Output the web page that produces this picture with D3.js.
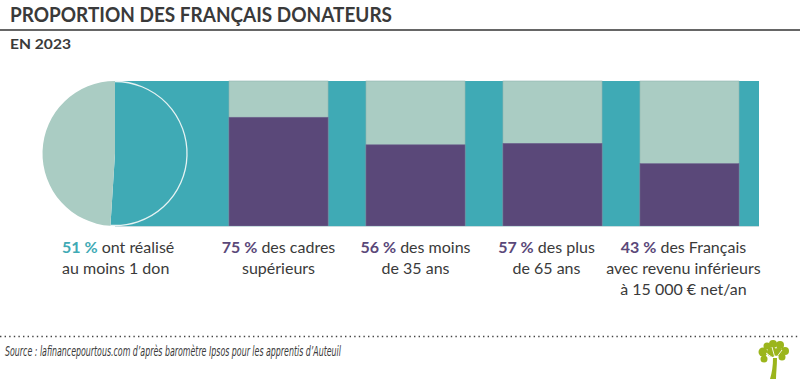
<!DOCTYPE html>
<html><head><meta charset="utf-8">
<script src="https://cdn.jsdelivr.net/npm/d3@7"></script>
<style>
html,body{margin:0;padding:0;background:#fff;}
svg{display:block;font-family:Lato,"Noto Sans",sans-serif;}
</style></head>
<body>
<svg id="chart" width="800" height="379"></svg>
<script>
// ---- data ----
const title = "PROPORTION DES FRANÇAIS DONATEURS";
const subtitle = "EN 2023";
const source = "Source : lafinancepourtous.com d’après baromètre Ipsos pour les apprentis d’Auteuil";
const pieValues = [51, 49];               // donateurs / non-donateurs
const pieLabelPct = "51 %";
const pieLabelLines = ["ont réalisé", "au moins 1 don"];
const barCategories = ["cadres", "moins35", "plus65", "revenu"];
const barValues = [75, 56, 57, 43];
const barPct = ["75 %", "56 %", "57 %", "43 %"];
const barLabelFirst = ["des cadres", "des moins", "des plus", "des Français"];
const barLabelRest = [["supérieurs"], ["de 35 ans"], ["de 65 ans"], ["avec revenu inférieurs", "à 15 000 € net/an"]];

// ---- style ----
const TEAL = "#3FAAB5", LIGHT = "#AACCC3", PURPLE = "#5A4879", TEXT = "#3a3a3a", GREEN = "#9BB51C";

const svg = d3.select("#chart");
const yTop = 81, yBottom = 226;
const y = d3.scaleLinear().domain([0, 100]).range([yBottom, yTop]);
const x = d3.scaleBand().domain(d3.range(barValues.length)).range([229, 739]).paddingInner(0.277).paddingOuter(0);

// title
svg.append("text").attr("x", 10).attr("y", 22).attr("fill", TEXT)
  .attr("font-size", 21.5).attr("font-weight", 700)
  .attr("textLength", 382).attr("lengthAdjust", "spacingAndGlyphs").text(title);
svg.append("line").attr("x1", 0).attr("x2", 800).attr("y1", 30).attr("y2", 30)
  .attr("stroke", "#333").attr("stroke-width", 1.5);
svg.append("text").attr("x", 10).attr("y", 49).attr("fill", TEXT)
  .attr("font-size", 14).attr("font-weight", 700)
  .attr("textLength", 61).attr("lengthAdjust", "spacingAndGlyphs").text(subtitle);

// pie geometry
const r = (yBottom - yTop) / 2;
const cx = 115, cy = (yTop + yBottom) / 2;

// teal background band
svg.append("rect").attr("x", cx).attr("y", yTop)
  .attr("width", x.range()[1] + 20 - cx).attr("height", yBottom - yTop).attr("fill", TEAL);

// bars
const bars = svg.append("g");
barValues.forEach((v, i) => {
  bars.append("rect").attr("x", x(i)).attr("width", x.bandwidth())
    .attr("y", y(100)).attr("height", y(0) - y(100)).attr("fill", LIGHT)
    .attr("stroke", "#8fb4ae").attr("stroke-width", 0.6);
  bars.append("rect").attr("x", x(i)).attr("width", x.bandwidth())
    .attr("y", y(v)).attr("height", y(0) - y(v)).attr("fill", PURPLE)
    .attr("stroke", "#6f6890").attr("stroke-width", 0.6);
});
svg.append("line").attr("x1", cx).attr("x2", x.range()[1] + 20).attr("y1", yBottom + 0.5).attr("y2", yBottom + 0.5)
  .attr("stroke", "#c9dcdf").attr("stroke-width", 1);

// pie
const pie = d3.pie().sort(null).startAngle(0).endAngle(2 * Math.PI)(pieValues);
const arc = d3.arc().innerRadius(0).outerRadius(r);
const pg = svg.append("g").attr("transform", `translate(${cx},${cy})`);
pg.selectAll("path.slice").data(pie).join("path").attr("class", "slice")
  .attr("d", arc).attr("fill", (d, i) => i === 0 ? TEAL : LIGHT);
const outline = d3.arc().innerRadius(r - 0.5).outerRadius(r - 0.5);
pg.append("path").attr("d", outline(pie[0])).attr("fill", "none")
  .attr("stroke", "#e6f3f3").attr("stroke-width", 1.3);

// labels
const fs = 16, lh = 21, base = 253;
const l0 = svg.append("text").attr("font-size", fs).attr("fill", TEXT);
l0.append("tspan").attr("x", 62).attr("y", base).attr("font-weight", 700).attr("fill", TEAL).text(pieLabelPct);
l0.append("tspan").text(" " + pieLabelLines[0]);
l0.append("tspan").attr("x", 62).attr("y", base + lh).text(pieLabelLines[1]);

barValues.forEach((v, i) => {
  const cxl = x(i) + x.bandwidth() / 2 - (i >= 2 ? 6 : 0);
  const t = svg.append("text").attr("font-size", fs).attr("fill", TEXT).attr("text-anchor", "middle");
  t.append("tspan").attr("x", cxl).attr("y", base).attr("font-weight", 700).attr("fill", PURPLE).text(barPct[i]);
  t.append("tspan").text(" " + barLabelFirst[i]);
  barLabelRest[i].forEach((line, j) => {
    t.append("tspan").attr("x", cxl).attr("y", base + lh * (j + 1)).text(line);
  });
});

// dotted separator + source
svg.append("line").attr("x1", 0).attr("x2", 800).attr("y1", 336.5).attr("y2", 336.5)
  .attr("stroke", "#444").attr("stroke-width", 1.4).attr("stroke-dasharray", "1.4,3.2");
svg.append("text").attr("x", 5).attr("y", 355.5).attr("font-size", 14).attr("font-style", "italic")
  .attr("font-family", "'DejaVu Sans Condensed', 'DejaVu Sans', sans-serif").attr("font-weight", 300)
  .attr("fill", TEXT).attr("textLength", 336).attr("lengthAdjust", "spacingAndGlyphs").text(source);

// logo tree
const logo = svg.append("g").attr("fill", GREEN);
logo.append("path").attr("d", "M770,379 C772,372 773,366 773,358 L777,358 C777,366 776,373 776,379 Z");
[[763,352,4.5],[767,346,3.5],[773,344,4],[780,345,4],[785,351,4],[782,357,3.5],[764,359,3.5],[772,352,5],[778,352,4]].forEach(c => {
  logo.append("circle").attr("cx", c[0]).attr("cy", c[1]).attr("r", c[2]);
});
logo.append("path").attr("d", "M773,358 L766,353 M775,358 L772,347 M776,358 L782,350").attr("stroke", "#fff").attr("stroke-width", 0.9).attr("fill", "none");
</script>
</body></html>
